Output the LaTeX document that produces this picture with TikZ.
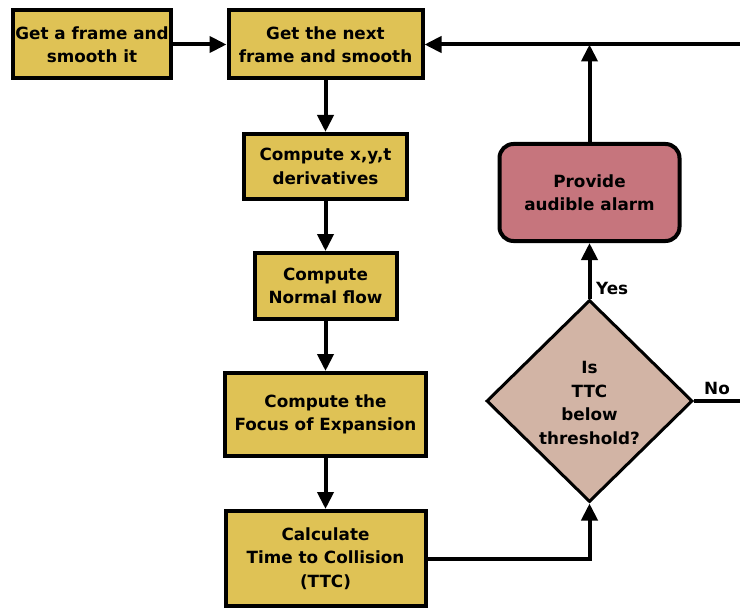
\documentclass[tikz,border=0pt]{standalone}
\usepackage{fontspec}
\setmainfont{DejaVu Sans}
\usetikzlibrary{shapes.geometric,arrows.meta}
\definecolor{boxyellow}{RGB}{223,194,85}
\definecolor{alarmpink}{RGB}{198,117,125}
\definecolor{decisiontan}{RGB}{210,180,165}
\tikzset{
  stepbox/.style={draw=black, line width=4pt, fill=boxyellow, rectangle, inner sep=0pt, align=center, font=\bfseries\fontsize{16.8}{23.5}\selectfont},
  alarmbox/.style={draw=black, line width=4pt, fill=alarmpink, rectangle, rounded corners=14pt, inner sep=0pt, align=center, font=\bfseries\fontsize{16.8}{23.5}\selectfont},
  decision/.style={draw=black, line width=3pt, fill=decisiontan, diamond, inner sep=0pt},
  dtext/.style={align=center, inner sep=0pt, font=\bfseries\fontsize{16.8}{23.5}\selectfont},
  lbl/.style={inner sep=0pt, font=\bfseries\fontsize{16.8}{20}\selectfont},
  flow/.style={line width=4pt, -{Triangle[length=17pt,width=16pt]}},
  plainline/.style={line width=4pt}
}
\begin{document}
\begin{tikzpicture}[x=1pt,y=-1pt]
\useasboundingbox (0,0) rectangle (740,610);
\node[stepbox, minimum width=158pt, minimum height=68pt] (b1) at (92,44.5) {Get a frame and\\smooth it};
\node[stepbox, minimum width=194pt, minimum height=68pt] (b2) at (325.5,44.5) {Get the next\\frame and smooth};
\node[stepbox, minimum width=163pt, minimum height=65pt] (b3) at (325.5,166.5) {Compute x,y,t\\derivatives};
\node[stepbox, minimum width=142pt, minimum height=66pt] (b4) at (325.5,286) {Compute\\Normal flow};
\node[stepbox, minimum width=201pt, minimum height=83pt] (b5) at (325.5,414.5) {Compute the\\Focus of Expansion};
\node[stepbox, minimum width=200pt, minimum height=95pt] (b6) at (325.5,558.5) {Calculate\\Time to Collision\\(TTC)};
\node[alarmbox, minimum width=180pt, minimum height=97pt] (alarm) at (589.5,192.5) {Provide\\audible alarm};
\node[decision, minimum width=206pt, minimum height=202pt] (dec) at (589.5,401) {};
\node[dtext] (dectext) at (589.5,403) {Is\\TTC\\below\\threshold?};
\coordinate (junction) at (589.5,44.5);
\coordinate (loopin) at (740,44.5);
\coordinate (noexit) at (740,401);
\draw[flow] (b1.east) -- (b2.west);
\draw[flow] (b2.south) -- (b3.north);
\draw[flow] (b3.south) -- (b4.north);
\draw[flow] (b4.south) -- (b5.north);
\draw[flow] (b5.south) -- (b6.north);
\draw[flow] (b6.east) -| (dec.south);
\draw[flow] (dec.north) -- (alarm.south);
\draw[flow] (alarm.north) -- (junction);
\draw[flow] (loopin) -- (b2.east);
\draw[plainline] (dec.east) -- (noexit);
\node[lbl, anchor=west] (yes) at (596,288) {Yes};
\node[lbl, anchor=west] (no) at (704,388) {No};
\end{tikzpicture}
\end{document}
